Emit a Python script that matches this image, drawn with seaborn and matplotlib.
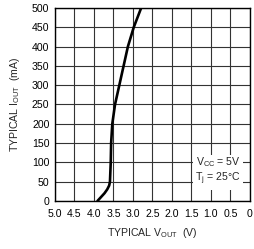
import numpy as np
import pandas as pd
import seaborn as sns
import matplotlib.pyplot as plt

# values
i_out = [0, 10, 20, 30, 40, 50, 100, 150, 200, 250, 300, 350, 400, 450, 500]
v_out = [3.91, 3.82, 3.73, 3.66, 3.61, 3.59, 3.57, 3.56, 3.53, 3.46, 3.35, 3.24, 3.13, 2.98, 2.79]
x_ticks = [5.0, 4.5, 4.0, 3.5, 3.0, 2.5, 2.0, 1.5, 1.0, 0.5, 0.0]
x_labels = ['5.0', '4.5', '4.0', '3.5', '3.0', '2.5', '2.0', '1.5', '1.0', '0.5', '0']
y_ticks = list(range(0, 501, 50))

sns.set_style('white')
plt.rcParams['font.family'] = ['Liberation Sans', 'DejaVu Sans']
plt.rcParams['mathtext.default'] = 'regular'

df = pd.DataFrame({'v_out': v_out, 'i_out': i_out})

fig = plt.figure(figsize=(2.54, 2.49), dpi=100)
ax = fig.add_axes([0.2165, 0.193, 0.7675, 0.775])

sns.lineplot(data=df, x='v_out', y='i_out', sort=False, color='black', lw=1.9, ax=ax)

ax.set_xlim(5.0, 0.0)
ax.set_ylim(0, 500)
ax.set_xticks(x_ticks)
ax.set_xticklabels(x_labels)
ax.set_yticks(y_ticks)
ax.grid(True, color='#333333', lw=0.8)
ax.set_axisbelow(True)
ax.tick_params(length=0, labelsize=7.6, pad=4, colors='black')
ax.tick_params(axis='x', pad=6)
for s in ax.spines.values():
    s.set_color('black')
    s.set_linewidth(1.0)

ax.set_xlabel(r'TYPICAL V$_{OUT}$  (V)', fontsize=7.6, labelpad=5)
ax.set_ylabel(r'TYPICAL I$_{OUT}$  (mA)', fontsize=7.6, labelpad=7)

ax.text(0.82, 77, 'V$_{CC}$ = 5V\nT$_{j}$ = 25°C', fontsize=7.6, ha='center', va='center',
        linespacing=1.1, bbox=dict(facecolor='white', edgecolor='none', pad=2))

fig.savefig('out.png', dpi=100)
